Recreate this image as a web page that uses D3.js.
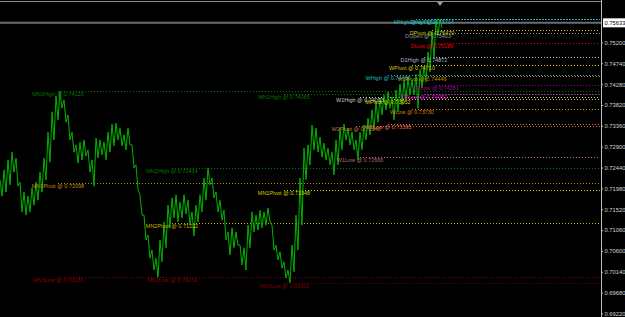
<!DOCTYPE html>
<html><head><meta charset="utf-8">
<script src="https://cdn.jsdelivr.net/npm/d3@7"></script>
<style>html,body{margin:0;padding:0;background:#000;overflow:hidden}</style>
</head><body><svg id="c" width="625" height="317"></svg>
<script>
// ---------- data ----------
const tickLabels = ["0.75200","0.74740","0.74280","0.73820","0.73360","0.72900","0.72440","0.71980","0.71520","0.71060","0.70600","0.70140","0.69680","0.69220"];
const currentPrice = 0.75633;
const highs = [0.7217,0.7239,0.7261,0.7278,0.7265,0.7212,0.7190,0.7181,0.7199,0.7212,
0.7234,0.7265,0.7322,0.7367,0.7402,0.7412,0.7393,0.7360,0.7322,0.7294,
0.7300,0.7305,0.7283,0.7261,0.7309,0.7305,0.7300,0.7322,0.7340,0.7342,
0.7331,0.7316,0.7331,0.7294,0.7250,0.7184,0.7139,0.7095,0.7062,0.7044,
0.7084,0.7124,0.7161,0.7177,0.7184,0.7168,0.7184,0.7172,0.7146,0.7161,
0.7184,0.7221,0.7243,0.7221,0.7190,0.7172,0.7150,0.7102,0.7111,0.7102,
0.7073,0.7067,0.7117,0.7146,0.7139,0.7150,0.7146,0.7155,0.7117,0.7073,
0.7058,0.7036,0.7018,0.7073,0.7139,0.7221,0.7287,0.7294,0.7338,0.7331,
0.7311,0.7298,0.7287,0.7278,0.7305,0.7331,0.7340,0.7331,0.7322,0.7305,
0.7322,0.7338,0.7353,0.7371,0.7389,0.7398,0.7404,0.7411,0.7400,0.7415,
0.7428,0.7437,0.7444,0.7437,0.7450,0.7459,0.7468,0.7499,0.7543,0.7570,0.7571];
const lows = [0.7181,0.7190,0.7206,0.7234,0.7203,0.7146,0.7139,0.7146,0.7161,0.7172,
0.7190,0.7217,0.7256,0.7305,0.7349,0.7375,0.7344,0.7305,0.7278,0.7254,
0.7261,0.7269,0.7234,0.7203,0.7265,0.7272,0.7261,0.7278,0.7292,0.7305,
0.7292,0.7283,0.7294,0.7243,0.7195,0.7139,0.7084,0.7044,0.7018,0.7002,
0.7036,0.7067,0.7111,0.7133,0.7124,0.7133,0.7142,0.7117,0.7093,0.7124,
0.7146,0.7172,0.7206,0.7177,0.7146,0.7128,0.7084,0.7051,0.7067,0.7073,
0.7029,0.7018,0.7067,0.7102,0.7106,0.7111,0.7117,0.7124,0.7062,0.7040,
0.7022,0.7000,0.6990,0.7014,0.7062,0.7117,0.7217,0.7250,0.7283,0.7278,
0.7267,0.7261,0.7250,0.7228,0.7250,0.7283,0.7305,0.7294,0.7283,0.7261,
0.7283,0.7305,0.7316,0.7327,0.7344,0.7360,0.7371,0.7375,0.7349,0.7367,
0.7382,0.7393,0.7404,0.7404,0.7375,0.7420,0.7433,0.7455,0.7486,0.7536,0.7552];

const levelNames  = ["MN3High","MN3Pivot","MN3Low","MN2High","MN2Pivot","MN2Low","MN1High","MN1Pivot","MN1Low",
  "MHigh","DHigh","DPivot","DOpen","DLow","D1High","WPivot","WHigh","W1Pivot","D1Low","D2Low","W1High","MPivot","WLow","W2Low","W2Pivot","W1Low"];
const levelValues = [0.74120,0.72098,0.70030,0.72434,0.71222,0.70019,0.74065,0.71948,0.69901,
  0.75714,0.75714,0.75470,0.75403,0.75186,0.74872,0.74710,0.74480,0.74449,0.74261,0.74052,0.74003,0.73952,0.73730,0.73395,0.73346,0.72666];
const levelStartBar = [14.5,14.5,14.5,43,43,43,71,71,71,
  104,108,108,107,108,106,103,97,105.5,109,106,90,97,103,97,89,90];

// ---------- styles ----------
const levelColor = {
  MN3High:"#007a00",MN2High:"#007a00",MN1High:"#007a00",
  MN3Pivot:"#c08a10",MN2Pivot:"#c8b400",MN1Pivot:"#d0d000",
  MN3Low:"#8b0000",MN2Low:"#8b0000",MN1Low:"#780000",
  MHigh:"#20b8b8",DHigh:"#20b8b8",WHigh:"#20b8c0",
  DPivot:"#c8c800",WPivot:"#d0c800",MPivot:"#d8d000",W1Pivot:"#b8900b",
  DOpen:"#8898a8",D1High:"#a8b8cc",W1High:"#c8c8c8",
  DLow:"#e00000",D1Low:"#a000a0",D2Low:"#e000e0",
  WLow:"#d88000",W2Low:"#e06848",W2Pivot:"#c87828",W1Low:"#b86868"
};

const W = 625, H = 317, plotRight = 601;
const font = "Liberation Sans, Arial, sans-serif";
const svg = d3.select("#c");
svg.append("rect").attr("width",W).attr("height",H).attr("fill","#000");

const x = d3.scaleLinear().domain([0,150]).range([0,600]);
const y = d3.scaleLinear().domain([0.69220,0.75200]).range([313.5,42.45]);

// top border
svg.append("line").attr("x1",0).attr("x2",plotRight).attr("y1",1.5).attr("y2",1.5)
  .attr("stroke","#8a8a8a").attr("stroke-width",1);

// level lines
const levels = levelNames.map((n,i)=>({name:n,value:levelValues[i],start:levelStartBar[i]}));
svg.append("g").selectAll("line").data(levels).join("line")
  .attr("x1",d=>x(d.start)).attr("x2",plotRight-1)
  .attr("y1",d=>Math.round(y(d.value))+0.5).attr("y2",d=>Math.round(y(d.value))+0.5)
  .attr("stroke",d=>levelColor[d.name]).attr("stroke-width",1)
  .attr("stroke-dasharray","1,2");

// current price line
svg.append("line").attr("x1",0).attr("x2",plotRight).attr("y1",y(currentPrice)).attr("y2",y(currentPrice))
  .attr("stroke","#6c6c6c").attr("stroke-width",2);

// price series: zigzag through highs and lows
const g = svg.append("g");
const pts = [];
highs.forEach((h,i)=>{ pts.push([x(i),y(h)]); pts.push([x(i)+2,y(lows[i])]); });
g.append("path").attr("d",d3.line()(pts)).attr("fill","none")
  .attr("stroke","#00b400").attr("stroke-width",1);

// level labels
svg.append("g").selectAll("text").data(levels).join("text")
  .attr("x",d=>x(d.start)).attr("y",d=>y(d.value)+5)
  .attr("text-anchor","middle")
  .attr("font-family",font).attr("font-size",5.5)
  .attr("fill",d=>levelColor[d.name])
  .text(d=>`${d.name} @ ${d.value.toFixed(5)}`);

// shift marker triangle
const lx = x(highs.length-1);
svg.append("path").attr("d",`M${lx-3},2 L${lx+3},2 L${lx},6 Z`).attr("fill","#9a9a9a");

// right axis
svg.append("line").attr("x1",plotRight+0.5).attr("x2",plotRight+0.5).attr("y1",0).attr("y2",H)
  .attr("stroke","#bdbdbd").attr("stroke-width",1);
const ax = svg.append("g").attr("transform",`translate(${plotRight},0)`);
const axis = d3.axisRight(y).tickValues(tickLabels.map(Number)).tickFormat((d,i)=>tickLabels[i]).tickSize(2).tickPadding(1.5);
ax.call(axis);
ax.select(".domain").remove();
ax.selectAll(".tick line").attr("stroke","#bdbdbd");
ax.selectAll(".tick text").attr("fill","#d4d4d4").attr("font-family",font).attr("font-size",5.8);

// current price box
const cy = y(currentPrice);
svg.append("rect").attr("x",plotRight+2).attr("y",cy-4.5).attr("width",W-plotRight-2).attr("height",9).attr("fill","#fff");
svg.append("text").attr("x",plotRight+3.5).attr("y",cy+2.2).attr("font-family",font)
  .attr("font-size",5.8).attr("fill","#000").text(currentPrice.toFixed(5));
</script></body></html>
